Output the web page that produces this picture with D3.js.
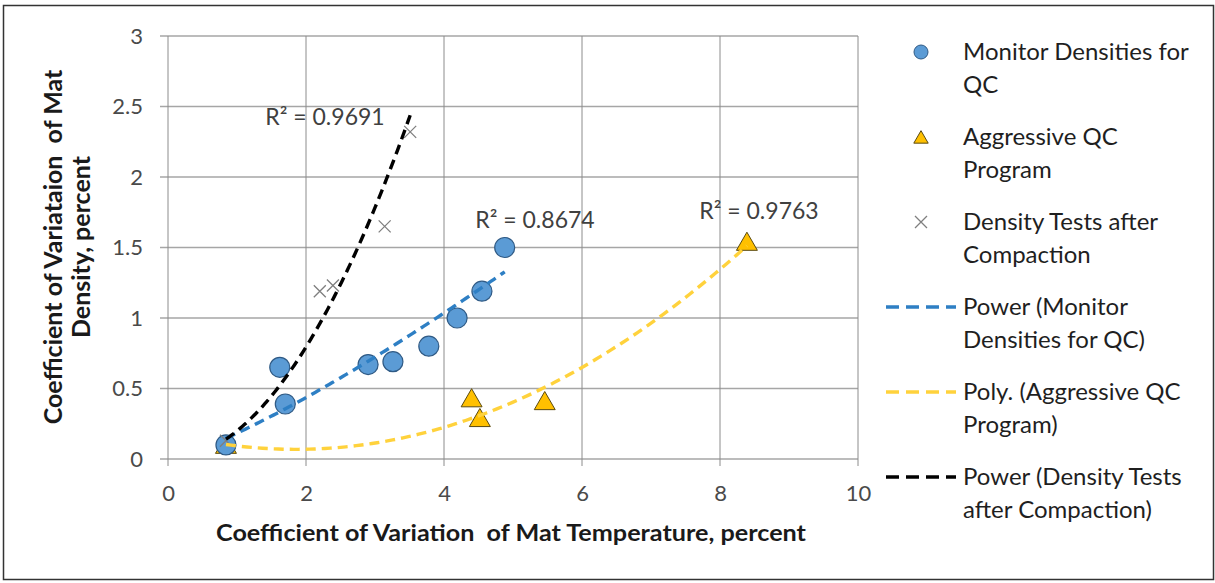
<!DOCTYPE html>
<html><head><meta charset="utf-8">
<script src="https://cdn.jsdelivr.net/npm/d3@7"></script>
<style>body{margin:0;background:#fff;} text{font-family:Lato, "Open Sans", sans-serif; white-space:pre;}</style>
</head><body>
<svg id="c" width="1215" height="583"></svg>
<script>
// Data
const monitorX = [0.84, 1.62, 1.70, 2.90, 3.26, 3.78, 4.19, 4.55, 4.88];
const monitorY = [0.10, 0.65, 0.39, 0.67, 0.69, 0.80, 1.00, 1.19, 1.50];
const aggressiveX = [0.84, 4.40, 4.52, 5.46, 8.39];
const aggressiveY = [0.09, 0.42, 0.28, 0.40, 1.53];
const densityX = [0.84, 2.20, 2.39, 3.14, 3.51];
const densityY = [0.13, 1.19, 1.23, 1.65, 2.32];
const xTicks = [0, 2, 4, 6, 8, 10];
const yTicks = [0, 0.5, 1, 1.5, 2, 2.5, 3];
const r2Labels = ["R² = 0.9691", "R² = 0.8674", "R² = 0.9763"];
const legendLabels = [["Monitor Densities for","QC"],["Aggressive QC","Program"],["Density Tests after","Compaction"],["Power (Monitor","Densities for QC)"],["Poly. (Aggressive QC","Program)"],["Power (Density Tests","after Compaction)"]];

const svg = d3.select("#c");
svg.append("rect").attr("x",3.5).attr("y",5.5).attr("width",1210).attr("height",574).attr("fill","#fff").attr("stroke","#333").attr("stroke-width",1.5);

const x = d3.scaleLinear().domain([0,10]).range([168,858]);
const y = d3.scaleLinear().domain([0,3]).range([459,36]);

// gridlines
svg.append("g").selectAll("line").data(yTicks).join("line")
  .attr("x1",160).attr("x2",858).attr("y1",d=>y(d)).attr("y2",d=>y(d))
  .attr("stroke","#a6a6a6").attr("stroke-width",1.3);
svg.append("g").selectAll("line").data(xTicks).join("line")
  .attr("x1",d=>x(d)).attr("x2",d=>x(d)).attr("y1",36).attr("y2",466)
  .attr("stroke","#8c8c8c").attr("stroke-width",1);

const yAxis = d3.axisLeft(y).tickValues(yTicks).tickSize(0).tickPadding(25).tickFormat(d3.format("~g"));
const gy = svg.append("g").attr("transform","translate(168,0)").call(yAxis);
gy.select(".domain").remove();
gy.selectAll("text").attr("font-size",22).attr("fill","#4a4a4a").style("font-family","Lato, sans-serif");
const xAxis = d3.axisBottom(x).tickValues(xTicks).tickSize(0).tickPadding(26).tickFormat(d3.format("~g"));
const gx = svg.append("g").attr("transform","translate(0,459)").call(xAxis);
gx.select(".domain").remove();
gx.selectAll("text").attr("font-size",22).attr("fill","#4a4a4a").style("font-family","Lato, sans-serif");

// axis titles
svg.append("text").attr("x",511).attr("y",541).attr("text-anchor","middle").attr("font-size",23).attr("font-weight","bold").attr("fill","#1a1a1a")
  .attr("textLength",590).attr("lengthAdjust","spacingAndGlyphs").text("Coefficient of Variation  of Mat Temperature, percent");
svg.append("text").attr("transform","translate(62,247) rotate(-90)").attr("text-anchor","middle").attr("font-size",25).attr("font-weight","bold").attr("fill","#1a1a1a").text("Coefficient of Variataion  of Mat");
svg.append("text").attr("transform","translate(90,247) rotate(-90)").attr("text-anchor","middle").attr("font-size",25).attr("font-weight","bold").attr("fill","#1a1a1a").text("Density, percent");

// regressions
function powerFit(xs, ys){
  const lx = xs.map(Math.log), ly = ys.map(Math.log);
  const mx = d3.mean(lx), my = d3.mean(ly);
  let sxy=0,sxx=0; lx.forEach((v,i)=>{sxy+=(v-mx)*(ly[i]-my); sxx+=(v-mx)*(v-mx);});
  const b = sxy/sxx, a = Math.exp(my-b*mx);
  return t => a*Math.pow(t,b);
}
function polyFit(xs, ys){
  const S=[0,0,0,0,0], T=[0,0,0];
  xs.forEach((v,i)=>{for(let k=0;k<5;k++)S[k]+=Math.pow(v,k); for(let k=0;k<3;k++)T[k]+=ys[i]*Math.pow(v,k);});
  const M=[[S[0],S[1],S[2],T[0]],[S[1],S[2],S[3],T[1]],[S[2],S[3],S[4],T[2]]];
  for(let i=0;i<3;i++){for(let j=i+1;j<3;j++){const f=M[j][i]/M[i][i];for(let k=i;k<4;k++)M[j][k]-=f*M[i][k];}}
  const c=[0,0,0];
  for(let i=2;i>=0;i--){let s=M[i][3];for(let k=i+1;k<3;k++)s-=M[i][k]*c[k];c[i]=s/M[i][i];}
  return t => c[0]+c[1]*t+c[2]*t*t;
}
function trend(xs, f){
  const lo=d3.min(xs), hi=d3.max(xs);
  return d3.range(0,101).map(i=>{const t=lo+(hi-lo)*i/100;return [t,f(t)];});
}
const line = d3.line().x(d=>x(d[0])).y(d=>y(d[1]));
const dash = "10,6";

// markers
svg.append("g").selectAll("path").data(aggressiveX).join("path")
  .attr("d",d3.symbol(d3.symbolTriangle,190)())
  .attr("transform",(d,i)=>`translate(${x(d)},${y(aggressiveY[i])+1})`)
  .attr("fill","#ffc000").attr("stroke","#5a4a10").attr("stroke-width",1);
svg.append("g").selectAll("circle").data(monitorX).join("circle")
  .attr("cx",d=>x(d)).attr("cy",(d,i)=>y(monitorY[i])).attr("r",10)
  .attr("fill","#5b9bd5").attr("stroke","#2f5a85").attr("stroke-width",1.2);
const xm = svg.append("g");
densityX.forEach((d,i)=>{
  const cx=x(d), cy=y(densityY[i]), s=6;
  xm.append("path").attr("d",`M${cx-s},${cy-s}L${cx+s},${cy+s}M${cx-s},${cy+s}L${cx+s},${cy-s}`).attr("stroke","#7f7f7f").attr("stroke-width",1.3);
});

// trendlines
svg.append("path").datum(trend(monitorX,powerFit(monitorX,monitorY))).attr("d",line).attr("fill","none").attr("stroke","#2e7fc4").attr("stroke-width",3.4).attr("stroke-dasharray",dash);
svg.append("path").datum(trend(aggressiveX,polyFit(aggressiveX,aggressiveY))).attr("d",line).attr("fill","none").attr("stroke","#ffd23c").attr("stroke-width",3.4).attr("stroke-dasharray",dash);
svg.append("path").datum(trend(densityX,powerFit(densityX,densityY))).attr("d",line).attr("fill","none").attr("stroke","#000").attr("stroke-width",3.4).attr("stroke-dasharray",dash);

// R2 labels
const r2Pos = [[325,117],[535,220],[759,211]];
r2Labels.forEach((t,i)=>svg.append("text").attr("x",r2Pos[i][0]).attr("y",r2Pos[i][1]+8).attr("text-anchor","middle").attr("font-size",23).attr("fill","#404040").text(t));

// legend
const lg = svg.append("g");
const rowY = [52,137,222,307,392,477];
legendLabels.forEach((ls,i)=>{
  ls.forEach((t,j)=>lg.append("text").attr("x",963).attr("y",rowY[i]+8+j*33).attr("font-size",24).attr("fill","#1f1f1f").text(t));
});
lg.append("circle").attr("cx",921).attr("cy",rowY[0]).attr("r",7).attr("fill","#5b9bd5").attr("stroke","#2f5a85");
lg.append("path").attr("d",d3.symbol(d3.symbolTriangle,90)()).attr("transform",`translate(921,${rowY[1]+2})`).attr("fill","#ffc000").attr("stroke","#5a4a10");
lg.append("path").attr("d",`M915,216L927,228M915,228L927,216`).attr("stroke","#7f7f7f").attr("stroke-width",1.3);
[["#2e7fc4",3],["#ffd23c",4],["#000",5]].forEach(([c,i])=>{
  lg.append("line").attr("x1",886).attr("x2",956).attr("y1",rowY[i]).attr("y2",rowY[i]).attr("stroke",c).attr("stroke-width",3.4).attr("stroke-dasharray","13,7");
});
</script>
</body></html>
